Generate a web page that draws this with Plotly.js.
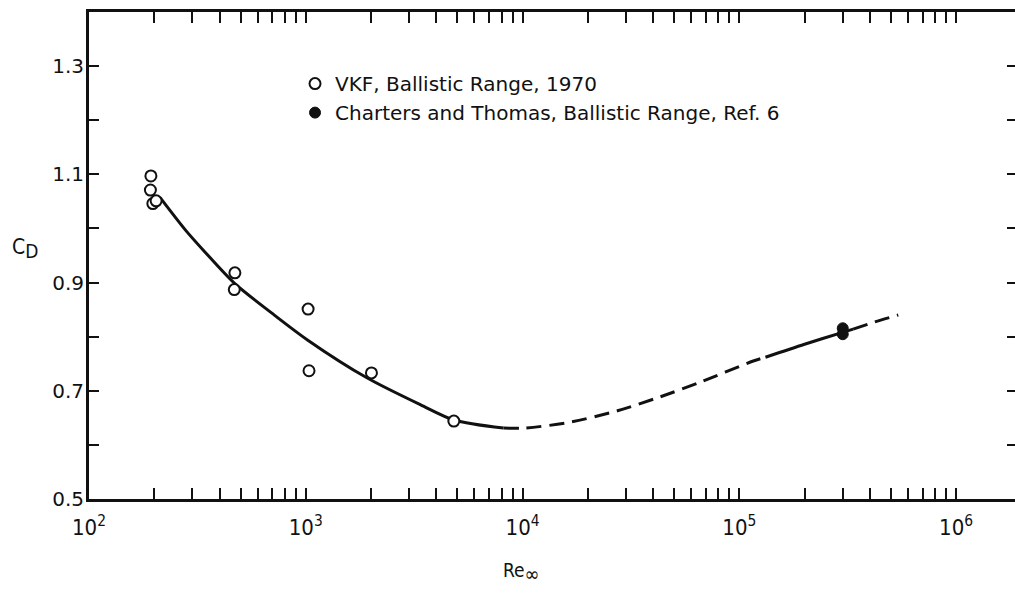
<!DOCTYPE html>
<html>
<head>
<meta charset="utf-8">
<script src="https://cdn.plot.ly/plotly-3.0.1.min.js"></script>
<style>
  html, body { margin: 0; padding: 0; background: #fff; overflow: hidden; }
  #chart { width: 1022px; height: 594px; }
</style>
</head>
<body>
<div id="chart"></div>
<script>
// Sphere drag coefficient vs. free-stream Reynolds number

// VKF ballistic range, 1970 (open symbols)
const vkfRe = [193, 192, 197, 204, 471, 468, 1025, 1035, 2009, 4820];
const vkfCd = [1.097, 1.071, 1.046, 1.051, 0.918, 0.887, 0.851, 0.737, 0.733, 0.644];

// Charters and Thomas, ballistic range, Ref. 6 (solid symbols)
const ctRe = [300000, 300000];
const ctCd = [0.8155, 0.8045];

// Faired curve, split into solid (data-supported) and dashed (extrapolated) pieces
const fairSolidLowRe = [213, 280, 340, 468, 700, 1018, 1923, 3388, 4820, 8170];
const fairSolidLowCd = [1.057, 0.996, 0.958, 0.899, 0.843, 0.794, 0.7235, 0.674, 0.646, 0.631];

const fairDashMidRe = [8170, 10100, 16100, 27400, 43300, 66100, 116000, 132000];
const fairDashMidCd = [0.631, 0.631, 0.641, 0.663, 0.689, 0.716, 0.755, 0.762];

const fairSolidHighRe = [132000, 200000, 300000, 335000];
const fairSolidHighCd = [0.762, 0.786, 0.808, 0.814];

const fairDashHighRe = [335000, 420000, 541000];
const fairDashHighCd = [0.814, 0.827, 0.840];

// Axis ticks: every integer multiple within each decade, labels at the decades
const decades = [2, 3, 4, 5, 6];
const decadeLabels = ['10<sup>2</sup>', '10<sup>3</sup>', '10<sup>4</sup>', '10<sup>5</sup>', '10<sup>6</sup>'];
const cdTicks = [0.5, 0.6, 0.7, 0.8, 0.9, 1.0, 1.1, 1.2, 1.3, 1.4];
const cdLabels = ['0.5', '', '0.7', '', '0.9', '', '1.1', '', '1.3', ''];

const xTickVals = [];
const xTickText = [];
decades.forEach((d, i) => {
  for (let m = 1; m <= 9; m++) {
    if (d === 6 && m > 1) break;
    xTickVals.push(m * Math.pow(10, d));
    xTickText.push(m === 1 ? decadeLabels[i] : '');
  }
});

const INK = '#111';
const FONT = '"DejaVu Sans", "Liberation Sans", sans-serif';
const NARROW = '"DejaVu Sans Condensed", "DejaVu Sans", sans-serif';

function curve(x, y, dash) {
  return {
    x: x, y: y, type: 'scatter', mode: 'lines',
    line: { color: INK, width: 3, dash: dash, shape: 'spline', smoothing: 0.8 },
    showlegend: false, hoverinfo: 'skip'
  };
}

const traces = [
  curve(fairSolidLowRe, fairSolidLowCd, 'solid'),
  curve(fairDashMidRe, fairDashMidCd, '15px,8px'),
  curve(fairSolidHighRe, fairSolidHighCd, 'solid'),
  curve(fairDashHighRe, fairDashHighCd, '15px,8px'),
  {
    x: vkfRe, y: vkfCd, type: 'scatter', mode: 'markers',
    name: 'VKF, Ballistic Range, 1970',
    marker: { symbol: 'circle', size: 11, color: '#fff', line: { color: INK, width: 2 } }
  },
  {
    x: ctRe, y: ctCd, type: 'scatter', mode: 'markers',
    name: 'Charters and Thomas, Ballistic Range, Ref. 6',
    marker: { symbol: 'circle', size: 11, color: INK, line: { color: INK, width: 1 } }
  }
];

const layout = {
  width: 1022,
  height: 594,
  margin: { l: 89, r: 5, t: 12, b: 95 },
  paper_bgcolor: '#fff',
  plot_bgcolor: '#fff',
  font: { family: FONT, color: INK, size: 18 },
  showlegend: true,
  legend: {
    x: 0.222, xanchor: 'left',
    y: 0.893, yanchor: 'top',
    bgcolor: 'rgba(0,0,0,0)',
    font: { family: FONT, size: 20, color: INK },
    tracegroupgap: 0
  },
  xaxis: {
    type: 'log',
    range: [2, 6.281],
    tickmode: 'array',
    tickvals: xTickVals,
    ticktext: xTickText,
    ticks: 'inside',
    ticklen: 11,
    tickwidth: 2,
    tickcolor: INK,
    showline: true,
    linewidth: 3,
    linecolor: INK,
    mirror: 'ticks',
    showgrid: false,
    zeroline: false,
    ticklabelstandoff: 7,
    tickfont: { family: NARROW, size: 22, color: INK }
  },
  yaxis: {
    range: [0.5, 1.4],
    tickmode: 'array',
    tickvals: cdTicks,
    ticktext: cdLabels,
    ticks: 'inside',
    ticklen: 10,
    tickwidth: 2,
    tickcolor: INK,
    showline: true,
    linewidth: 3,
    linecolor: INK,
    mirror: 'ticks',
    showgrid: false,
    zeroline: false,
    ticklabelstandoff: -2,
    tickfont: { family: FONT, size: 20, color: INK }
  },
  annotations: [
    {
      text: 'C<sub><span style="font-size:19px">D</span></sub>', xref: 'paper', yref: 'paper',
      x: -0.069, y: 0.515, xanchor: 'center', yanchor: 'middle',
      showarrow: false, font: { family: NARROW, size: 21, color: INK }
    },
    {
      text: 'Re<sub><span style="font-size:20px">\u221E</span></sub>', xref: 'paper', yref: 'paper',
      x: 0.466, y: -0.15, xanchor: 'center', yanchor: 'middle',
      showarrow: false, font: { family: NARROW, size: 19, color: INK }
    }
  ]
};

Plotly.newPlot('chart', traces, layout, { staticPlot: true, displayModeBar: false });
</script>
</body>
</html>
